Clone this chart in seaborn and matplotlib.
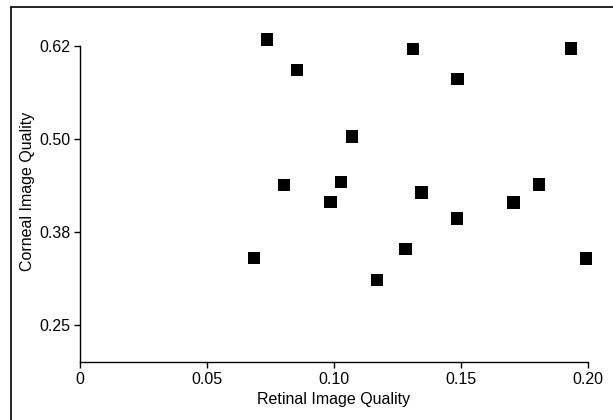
import matplotlib
matplotlib.use("Agg")
import matplotlib.pyplot as plt
from matplotlib.lines import Line2D
import seaborn as sns
import pandas as pd

retinal = [0.0737, 0.1311, 0.1934, 0.0855, 0.1487, 0.1072, 0.0803, 0.1028, 0.0986,
           0.1345, 0.1806, 0.1706, 0.1485, 0.0686, 0.1282, 0.1991, 0.1169]
corneal = [0.634, 0.621, 0.6215, 0.5926, 0.5806, 0.5033, 0.4384, 0.4424, 0.4153,
           0.4282, 0.4388, 0.4148, 0.3931, 0.3402, 0.3522, 0.3393, 0.310]
x_ticks = [0, 0.05, 0.10, 0.15, 0.20]
x_labels = ["0", "0.05", "0.10", "0.15", "0.20"]
y_ticks = [0.25, 0.375, 0.50, 0.625]
y_labels = ["0.25", "0.38", "0.50", "0.62"]

df = pd.DataFrame({"Retinal Image Quality": retinal, "Corneal Image Quality": corneal})

sns.set_theme(style="ticks")
plt.rcParams["font.family"] = ["Liberation Sans", "DejaVu Sans"]
plt.rcParams["text.color"] = "black"
plt.rcParams["axes.labelcolor"] = "black"
plt.rcParams["xtick.color"] = "black"
plt.rcParams["ytick.color"] = "black"

fig = plt.figure(figsize=(6.13, 4.2), dpi=100)
ax = fig.add_axes([80 / 613, 1 - 362 / 420, (588 - 80) / 613, (362 - 20) / 420])

sns.scatterplot(data=df, x="Retinal Image Quality", y="Corneal Image Quality",
                marker="s", s=80, color="black", edgecolor="none", ax=ax,
                clip_on=False)

ax.set_xlim(0, 0.20)
ax.set_ylim(0.2, 0.66)
ax.set_xticks(x_ticks)
ax.set_xticklabels(x_labels)
ax.set_yticks(y_ticks)
ax.set_yticklabels(y_labels)
ax.spines["top"].set_visible(False)
ax.spines["right"].set_visible(False)
ax.spines["left"].set_bounds(0.2, 0.625)
for s in ("left", "bottom"):
    ax.spines[s].set_linewidth(1.0)
    ax.spines[s].set_color("black")
ax.tick_params(axis="both", length=4, width=1.0, color="black", labelcolor="black",
               labelsize=11.5, pad=3)
ax.set_xlabel("Retinal Image Quality", fontsize=11.5, labelpad=4, color="black")
ax.set_ylabel("Corneal Image Quality", fontsize=11.5, labelpad=3, color="black")

# frame lines along the top and left edges of the figure
fig.add_artist(Line2D([11 / 613, 11 / 613], [0, 1 - 7 / 420], color="black", lw=1.2,
                      transform=fig.transFigure))
fig.add_artist(Line2D([11 / 613, 1], [1 - 7 / 420, 1 - 7 / 420], color="black", lw=1.2,
                      transform=fig.transFigure))

fig.savefig("out.png", dpi=100)
